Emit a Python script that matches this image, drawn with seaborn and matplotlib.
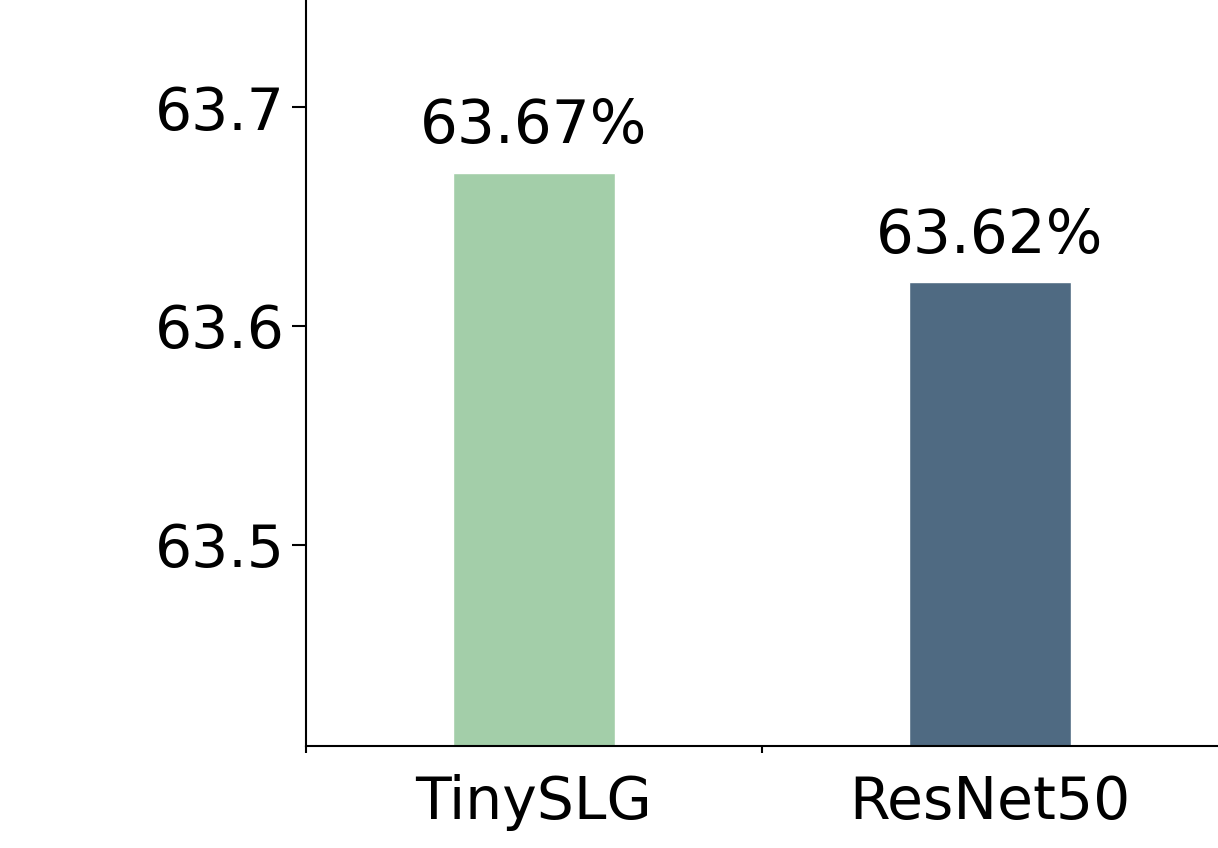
import numpy as np
import pandas as pd
import seaborn as sns
import matplotlib
matplotlib.use('Agg')
import matplotlib.pyplot as plt

# data
models = ['TinySLG', 'ResNet50']
accuracy = [63.67, 63.62]
bar_colors = ['#a3cea9', '#4f6a82']
y_ticks = [63.5, 63.6, 63.7]

sns.set_style('ticks')
plt.rcParams['font.family'] = ['DejaVu Sans']
plt.rcParams['text.color'] = 'black'
plt.rcParams['xtick.color'] = 'black'
plt.rcParams['ytick.color'] = 'black'
plt.rcParams['axes.edgecolor'] = 'black'

df = pd.DataFrame({'model': models, 'acc': accuracy})

fig = plt.figure(figsize=(12.18, 8.48), dpi=100)
ax = fig.add_axes([0.2512, 0.1203, 0.7488, 0.8797])

sns.barplot(data=df, x='model', y='acc', hue='model', palette=bar_colors,
            width=0.355, legend=False, ax=ax, saturation=1)

ax.set_ylim(63.408, 63.749)
ax.set_xlim(-0.5, 1.5)
ax.set_yticks(y_ticks)
ax.set_yticklabels(['%.1f' % t for t in y_ticks], fontsize=42)
ax.set_xticks(range(len(models)))
ax.set_xticklabels(models, fontsize=42)
ax.set_xticks([-0.5, 0.5], minor=True)
ax.tick_params(axis='x', which='major', length=0, pad=20)
ax.tick_params(axis='x', which='minor', length=5, width=1.5)
ax.tick_params(axis='y', length=10, width=1.5, pad=5)
ax.set_xlabel('')
ax.set_ylabel('')

for sp in ['top', 'right']:
    ax.spines[sp].set_visible(False)
for sp in ['left', 'bottom']:
    ax.spines[sp].set_linewidth(1.5)

for i, v in enumerate(accuracy):
    ax.annotate('%.2f%%' % v, (i, v), xytext=(0, 12), textcoords='offset points',
                ha='center', va='bottom', fontsize=43)

fig.savefig('out.png', dpi=100)
